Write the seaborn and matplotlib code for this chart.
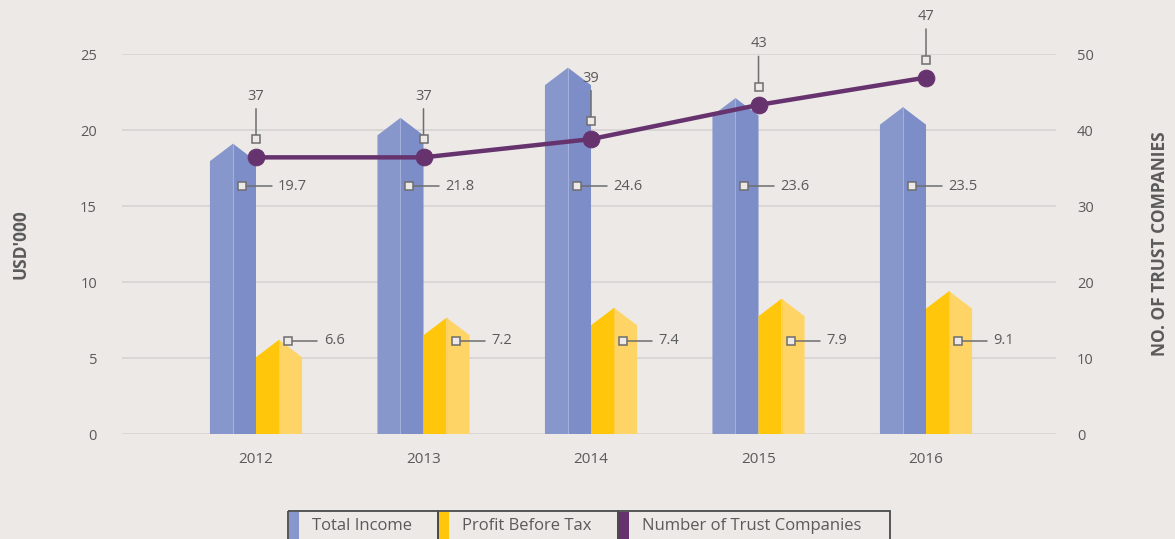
import matplotlib
matplotlib.use("Agg")
import matplotlib.pyplot as plt
from matplotlib.patches import Rectangle
from matplotlib.transforms import offset_copy
import numpy as np
import pandas as pd
import seaborn as sns

# data
years = ["2012", "2013", "2014", "2015", "2016"]
income_height = [19.1, 20.8, 24.1, 22.1, 21.5]
income_label = ["19.7", "21.8", "24.6", "23.6", "23.5"]
profit_height = [6.2, 7.65, 8.3, 8.9, 9.4]
profit_label = ["6.6", "7.2", "7.4", "7.9", "9.1"]
companies = [36.4, 36.4, 38.8, 43.3, 46.9]
companies_label = ["37", "37", "39", "43", "47"]
legend_names = ["Total Income", "Profit Before Tax", "Number of Trust Companies"]

BG = "#ECE9E6"
GRID = "#D8D5D4"
TXT = "#5A5A5A"
BLUE_L, BLUE_R = "#8797CB", "#7C8DC8"
YEL_L, YEL_R = "#FFC60B", "#FFD466"
PURPLE = "#66336F"

sns.set_theme(style="white", rc={"axes.facecolor": BG, "figure.facecolor": BG})
plt.rcParams["font.family"] = ["Open Sans", "DejaVu Sans"]

df = pd.DataFrame({"year": years, "idx": np.arange(len(years)),
                   "companies": companies})

fig = plt.figure(figsize=(11.75, 5.39), dpi=100)
ax = fig.add_axes([122 / 1175, 1 - 434 / 539, 934 / 1175, 380 / 539])
ax2 = ax.twinx()

W = 0.275      # width of one prism bar
DROP = 1.15    # shoulder drop of the pointed top


def prism(x0, h, c_left, c_right, divider):
    xc = x0 + W / 2
    x1 = x0 + W
    s = h - DROP
    ax.fill([x0, x0, xc, xc], [0, s, h, 0], color=c_left, lw=0, zorder=2)
    ax.fill([xc, xc, x1, x1], [0, h, s, 0], color=c_right, lw=0, zorder=2)
    ax.plot([xc, xc], [0, h], color=divider, lw=0.8, zorder=3)


def callout(x_mark, y, x_end, text):
    ax.plot([x_mark, x_end], [y, y], color="#6E6E6E", lw=1.1, zorder=4)
    ax.plot(x_mark, y, "s", ms=5.5, mfc=BG, mec="#6E6E6E", mew=1.1, zorder=5)
    ax.text(x_end + 0.037, y, text, ha="left", va="center", fontsize=10.5,
            color=TXT, zorder=5)


for i in range(len(years)):
    prism(i - W, income_height[i], BLUE_L, BLUE_R, "#A4B0DC")
    prism(i, profit_height[i], YEL_L, YEL_R, "#FFD04A")
    callout(i - 0.085, 16.3, i + 0.094, income_label[i])
    callout(i + 0.193, 6.12, i + 0.367, profit_label[i])

sns.lineplot(data=df, x="idx", y="companies", ax=ax2, color=PURPLE, lw=3.2,
             marker="o", ms=12, mec=PURPLE, mfc=PURPLE, zorder=6)

for i, (v, lab) in enumerate(zip(companies, companies_label)):
    tr = offset_copy(ax2.transData, fig=fig, x=0, y=13, units="points")
    ax2.plot(i, v, "s", ms=5.5, mfc=BG, mec="#6E6E6E", mew=1.1,
             transform=tr, zorder=7, clip_on=False)
    ax2.annotate("", xy=(i, v), xytext=(0, 35), textcoords="offset points",
                 arrowprops=dict(arrowstyle="-", color="#6E6E6E", lw=1.1,
                                 shrinkA=0, shrinkB=16), annotation_clip=False)
    ax2.annotate(lab, xy=(i, v), xytext=(0, 44), textcoords="offset points",
                 ha="center", va="center", fontsize=10.5, color=TXT,
                 annotation_clip=False)

ax.set_xlim(-0.8, 4.776)
ax.set_ylim(0, 25)
ax2.set_ylim(0, 50)
ax.set_yticks([0, 5, 10, 15, 20, 25])
ax2.set_yticks([0, 10, 20, 30, 40, 50])
ax.set_xticks(range(len(years)))
ax.set_xticklabels(years)
ax.yaxis.grid(True, color=GRID, lw=1.3)
ax.set_axisbelow(True)
for a in (ax, ax2):
    for sp in a.spines.values():
        sp.set_visible(False)
    a.set_xlabel("")
ax.tick_params(axis="x", length=0, pad=13, labelsize=11, labelcolor=TXT)
ax.tick_params(axis="y", length=0, pad=18, labelsize=10.5, labelcolor=TXT)
ax2.tick_params(axis="y", length=0, pad=15, labelsize=10.5, labelcolor=TXT)

ax.set_ylabel("USD'000", fontsize=12.5, fontweight="bold", color=TXT,
              va="center")
ax.yaxis.set_label_coords(-0.109, 0.5)
ax2.set_ylabel("NO. OF TRUST COMPANIES", fontsize=12.5, fontweight="bold",
               color=TXT, rotation=90, va="center")
ax2.yaxis.set_label_coords(1.111, 0.5)

# boxed legend along the bottom edge
lax = fig.add_axes([0, 0, 1, 1], facecolor="none")
lax.set_xlim(0, 1175)
lax.set_ylim(539, 0)
lax.axis("off")
cells = [(288, 438, BLUE_L), (438, 618, YEL_L), (618, 890, PURPLE)]
for (x0, x1, col), name in zip(cells, legend_names):
    lax.add_patch(Rectangle((x0, 511), x1 - x0, 40, fc="none", ec="#4A4A4A",
                            lw=1.3))
    lax.add_patch(Rectangle((x0 + 1, 512), 10, 40, fc=col, lw=0))
    lax.text(x0 + 24, 526, name, ha="left", va="center", fontsize=12,
             color=TXT)

fig.savefig("out.png", dpi=100, facecolor=BG)
